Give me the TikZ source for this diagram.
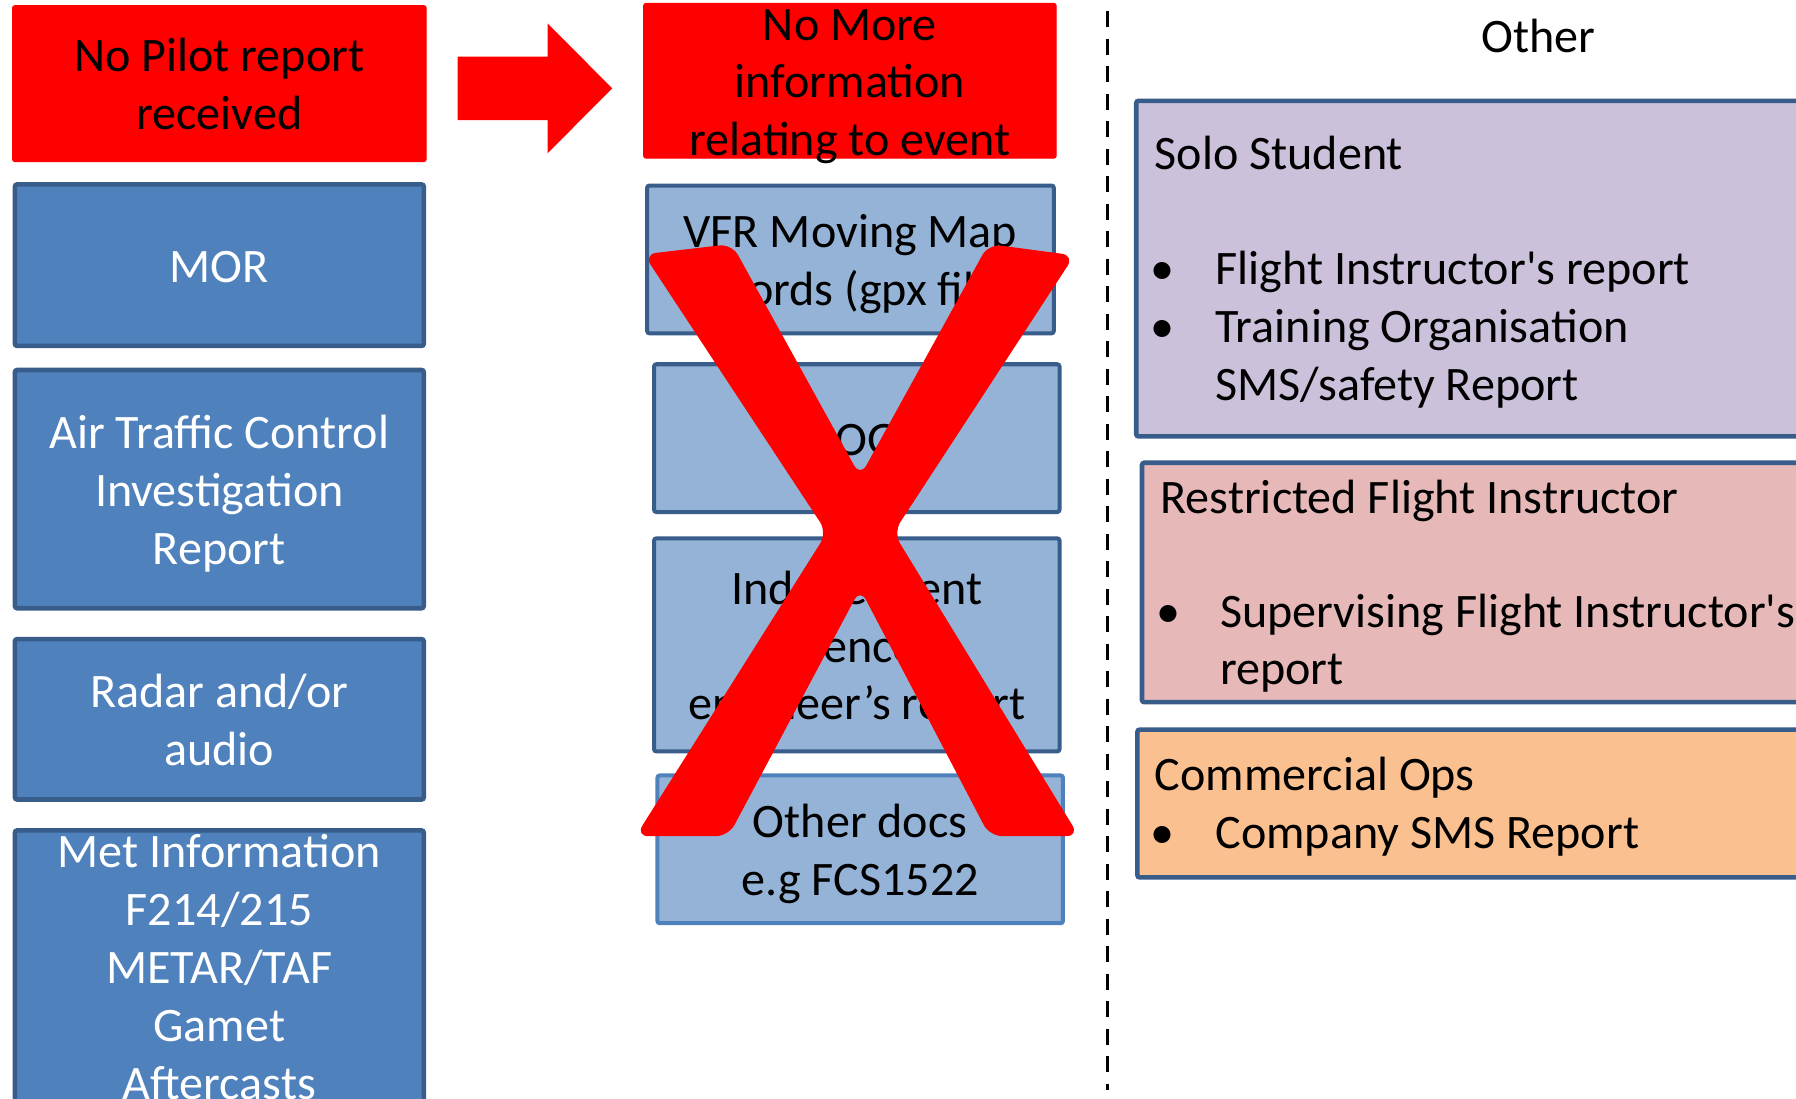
\documentclass[tikz,border=0pt]{standalone}
\usepackage{fontspec}
\setmainfont{Carlito}[Ligatures=TeXOff]
\definecolor{alarm}{HTML}{FF0000}
\definecolor{deepblue}{HTML}{4F81BD}
\definecolor{edgeblue}{HTML}{385D8A}
\definecolor{paleblue}{HTML}{95B3D7}
\definecolor{lilac}{HTML}{CCC1DA}
\definecolor{rose}{HTML}{E6B9B8}
\definecolor{peach}{HTML}{FAC090}
\newcommand{\bigfont}{\fontsize{42}{50.5}\selectfont}
% fixed line height/depth so every box centres its text the same way
\newcommand{\linestrut}{\rule[-9.8pt]{0pt}{49.6pt}}

\begin{document}
\begin{tikzpicture}[x=1pt,y=-1pt,
  card/.style={font=\bigfont, align=center, inner sep=0pt, outer sep=0pt, rounded corners=2pt,
    execute at begin node=\linestrut, execute at end node=\linestrut},
  overflow/.style={inner ysep=-8pt},
  alertcard/.style={card, fill=alarm, draw=alarm, line width=1pt},
  srccard/.style={card, fill=deepblue, draw=edgeblue, line width=4pt, text=white},
  gonecard/.style={card, fill=paleblue, draw=edgeblue, line width=3.5pt},
  groupcard/.style={draw=edgeblue, line width=4pt, rounded corners=2pt, inner sep=0pt, outer sep=0pt, anchor=north west},
  sidetext/.style={font=\bigfont, anchor=base west, inner sep=0pt},
  bulletmark/.style={font=\bigfont, anchor=base, inner sep=0pt},
]
\useasboundingbox (0,0) rectangle (1568,959);
\fill[white] (0,0) rectangle (1568,959);

% ---- left column: available sources ----
\node[alertcard, minimum width=361pt, minimum height=136pt] (nopilot) at (191.5,73) {\linestrut No Pilot report\\received};
\node[srccard, minimum width=357pt, minimum height=141pt] (mor) at (191.5,231.5) {MOR};
\node[srccard, minimum width=357pt, minimum height=208pt] (atc) at (191.5,427) {\linestrut Air Traffic Control\\Investigation\\Report};
\node[srccard, minimum width=357pt, minimum height=140pt] (radar) at (191.5,628) {\linestrut Radar and/or\\audio};
\node[srccard, overflow, minimum width=357pt, minimum height=237pt] (met) at (191.5,843.5) {\linestrut Met Information\\F214/215\\METAR/TAF\\Gamet\\Aftercasts};

% ---- block arrow ----
\fill[alarm] (399.5,49.5) -- (478,49.5) -- (478,20.4) -- (534.5,77.1) -- (478,133.9) -- (478,104.8) -- (399.5,104.8) -- cycle;

% ---- middle column: sources that are lost ----
\node[alertcard, overflow, minimum width=360pt, minimum height=135pt] (nomore) at (742,70.5) {\linestrut No More\\information\\relating to event};
\node[gonecard, minimum width=355pt, minimum height=129pt] (vfr) at (742.5,226.5) {\linestrut VFR Moving Map\\records (gpx file)};
\node[gonecard, minimum width=354pt, minimum height=129pt] (log) at (748,382.5) {LOG};
\node[gonecard, minimum width=354pt, minimum height=186pt] (indep) at (748,563) {\linestrut Independent\\Licenced\\engineer’s report};
\node[gonecard, draw=deepblue, minimum width=354pt, minimum height=129pt] (otherdocs) at (751,741.5) {\linestrut Other docs\\e.g FCS1522};

% ---- big cross over the middle column ----
\fill[alarm, rounded corners=11pt]
  (562,222) -- (639,213) -- (751,416) -- (863,213) -- (938,223)
  -- (780,465) -- (942,730) -- (864,730) -- (751,514) -- (636,730)
  -- (555,730) -- (722,465) -- cycle;

% ---- divider ----
\coordinate (divtop) at (967,10);
\coordinate (divbot) at (967,952);
\draw[line width=3pt, dash pattern=on 14pt off 10pt] (divtop) -- (divbot);

% ---- right column: other reports ----
\node[font=\bigfont, anchor=base, inner sep=0pt] (other) at (1343,46) {Other};

\node[groupcard, fill=lilac, minimum width=620pt, minimum height=293pt] (solo) at (992,88) {};
\node[sidetext] (solohead) at (1008,148) {Solo Student};
\node[bulletmark] (solob1) at (1015,248) {•};
\node[sidetext] (solot1) at (1061,248) {Flight Instructor's report};
\node[bulletmark] (solob2) at (1015,299) {•};
\node[sidetext] (solot2) at (1061,299) {Training Organisation};
\node[sidetext] (solot3) at (1061,350) {SMS/safety Report};

\node[groupcard, fill=rose, minimum width=620pt, minimum height=209pt] (restricted) at (997,404) {};
\node[sidetext] (resthead) at (1013,448) {Restricted Flight Instructor};
\node[bulletmark] (restb1) at (1020,548) {•};
\node[sidetext] (restt1) at (1065,548) {Supervising Flight Instructor's};
\node[sidetext] (restt2) at (1065,598) {report};

\node[groupcard, fill=peach, minimum width=620pt, minimum height=129pt] (commercial) at (993,637) {};
\node[sidetext] (commhead) at (1008,690) {Commercial Ops};
\node[bulletmark] (commb1) at (1015,741) {•};
\node[sidetext] (commt1) at (1061,741) {Company SMS Report};
\end{tikzpicture}
\end{document}
